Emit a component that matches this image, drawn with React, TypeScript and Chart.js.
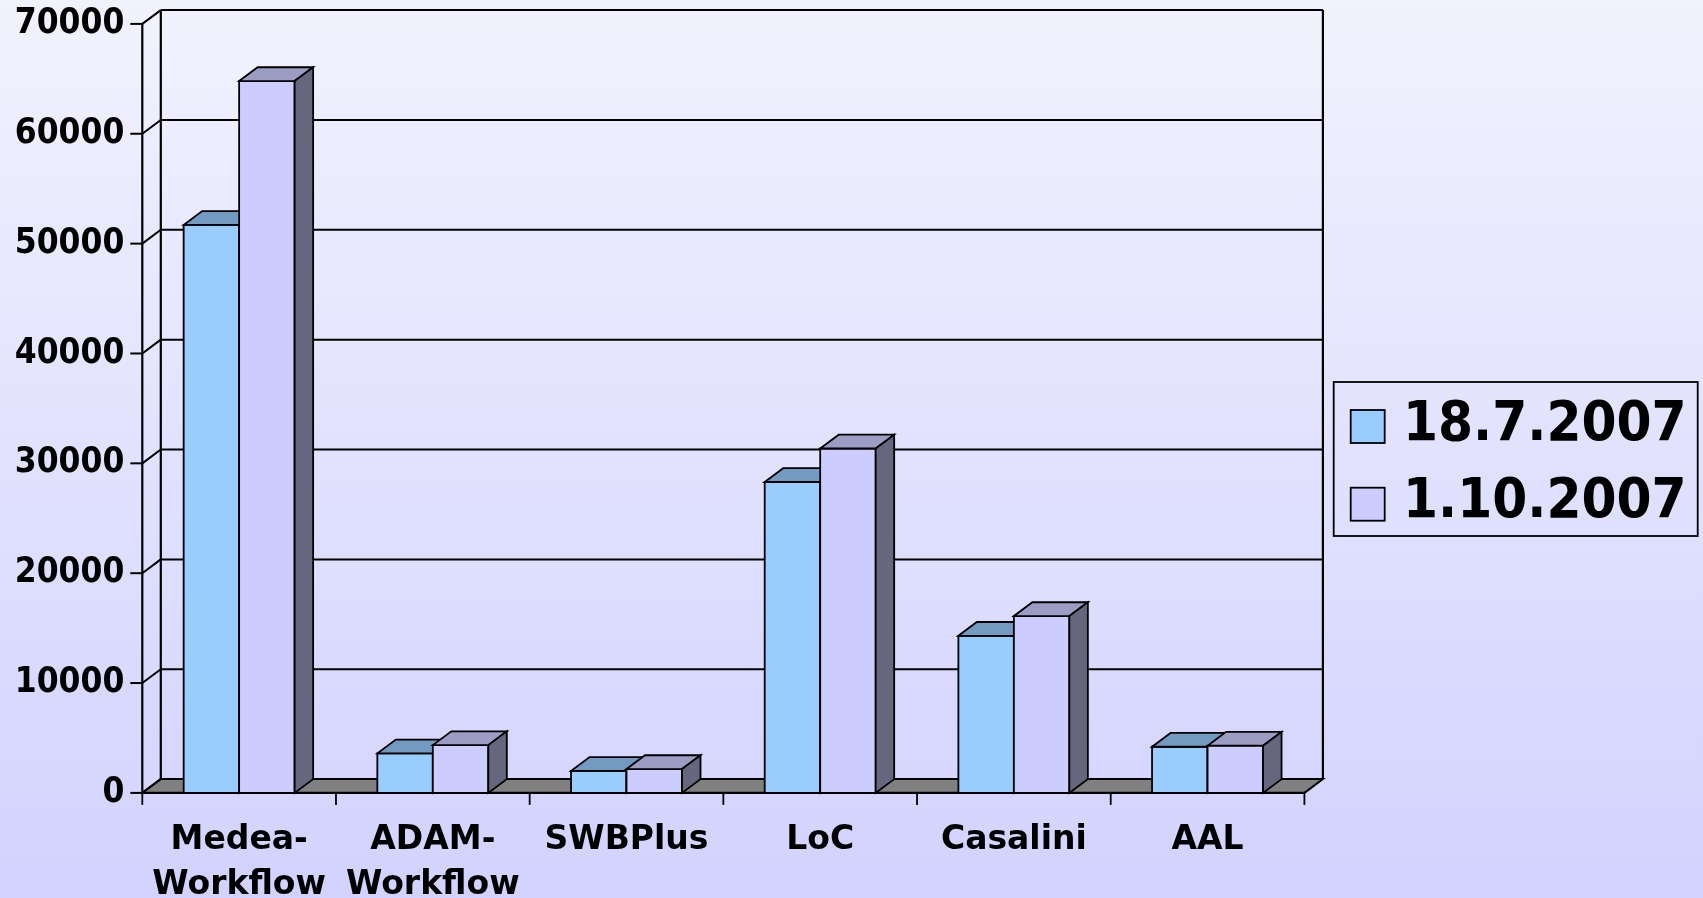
import React, { useEffect, useRef } from "react";
import { Chart, registerables } from "chart.js";

Chart.register(...registerables);

const categories: (string | string[])[] = [
  ["Medea-", "Workflow"],
  ["ADAM-", "Workflow"],
  "SWBPlus",
  "LoC",
  "Casalini",
  "AAL",
];
const seriesLabels = ["18.7.2007", "1.10.2007"];
const series1 = [51700, 3600, 2000, 28300, 14300, 4200];
const series2 = [64800, 4350, 2170, 31350, 16100, 4300];
const yMin = 0;
const yMax = 70000;
const yStep = 10000;

const frontColors = ["#99CCFF", "#CCCCFF"];
const topColors = ["#739AC0", "#9C9CC5"];
const sideColors = ["#4D6680", "#66667F"];

const FONT_C = "'DejaVu Sans Condensed', 'DejaVu Sans', sans-serif";
const FONT_N = "'DejaVu Sans', sans-serif";
const DX = 18.5;
const DY = 13.8;
const W = 1703;
const H = 898;

const threeD = {
  id: "threeD",
  beforeDraw(chart: any) {
    const ctx = chart.ctx;
    const g = ctx.createLinearGradient(0, 0, 0, H);
    g.addColorStop(0, "#F2F2FE");
    g.addColorStop(1, "#D2D2FF");
    ctx.save();
    ctx.fillStyle = g;
    ctx.fillRect(0, 0, W, H);
    ctx.restore();
  },
  beforeDatasetsDraw(chart: any) {
    const ctx = chart.ctx;
    const xs = chart.scales.x;
    const ys = chart.scales.y;
    const { left: L, right: R, top: T, bottom: B } = chart.chartArea;
    ctx.save();
    ctx.strokeStyle = "#000";
    ctx.lineCap = "butt";
    ctx.lineWidth = 2;
    ys.ticks.forEach((t: any) => {
      const y = ys.getPixelForValue(t.value);
      ctx.beginPath();
      ctx.moveTo(L + DX, y - DY);
      ctx.lineTo(R + DX, y - DY);
      ctx.moveTo(L, y);
      ctx.lineTo(L + DX, y - DY);
      ctx.stroke();
      ctx.beginPath();
      ctx.moveTo(L - 12, y);
      ctx.lineTo(L, y);
      ctx.stroke();
    });
    ctx.lineWidth = 2.2;
    ctx.beginPath();
    ctx.moveTo(L + DX, T - DY);
    ctx.lineTo(L + DX, B - DY);
    ctx.moveTo(R + DX, T - DY);
    ctx.lineTo(R + DX, B - DY);
    ctx.moveTo(L, T);
    ctx.lineTo(L, B + 1);
    ctx.stroke();
    // floor
    ctx.beginPath();
    ctx.moveTo(L, B);
    ctx.lineTo(R, B);
    ctx.lineTo(R + DX, B - DY);
    ctx.lineTo(L + DX, B - DY);
    ctx.closePath();
    ctx.fillStyle = "#808080";
    ctx.fill();
    ctx.lineWidth = 2;
    ctx.stroke();
    ctx.lineWidth = 2.4;
    ctx.beginPath();
    ctx.moveTo(L, B);
    ctx.lineTo(R, B);
    ctx.stroke();
    ctx.lineWidth = 1.8;
    for (let i = 0; i <= categories.length; i++) {
      const x = xs.getPixelForValue(i - 0.5);
      ctx.beginPath();
      ctx.moveTo(x, B);
      ctx.lineTo(x, B + 12);
      ctx.stroke();
    }
    // bars
    ctx.lineJoin = "miter";
    chart.data.datasets.forEach((_: any, di: number) => {
      const meta = chart.getDatasetMeta(di);
      meta.data.forEach((el: any) => {
        const { x, y, base, width } = el.getProps(["x", "y", "base", "width"], true);
        const l = x - width / 2;
        const r = x + width / 2;
        ctx.lineWidth = 1.8;
        ctx.beginPath();
        ctx.rect(l, y, r - l, base - y);
        ctx.fillStyle = frontColors[di];
        ctx.fill();
        ctx.stroke();
        ctx.beginPath();
        ctx.moveTo(l, y);
        ctx.lineTo(l + DX, y - DY);
        ctx.lineTo(r + DX, y - DY);
        ctx.lineTo(r, y);
        ctx.closePath();
        ctx.fillStyle = topColors[di];
        ctx.fill();
        ctx.stroke();
        ctx.beginPath();
        ctx.moveTo(r, y);
        ctx.lineTo(r + DX, y - DY);
        ctx.lineTo(r + DX, base - DY);
        ctx.lineTo(r, base);
        ctx.closePath();
        ctx.fillStyle = sideColors[di];
        ctx.fill();
        ctx.stroke();
      });
    });
    ctx.restore();
    return false;
  },
  afterDraw(chart: any) {
    const ctx = chart.ctx;
    ctx.save();
    const bx = 1333.7;
    const by = 382;
    const bw = 364;
    const bh = 154;
    ctx.strokeStyle = "#000";
    ctx.lineWidth = 1.8;
    ctx.strokeRect(bx, by, bw, bh);
    ctx.font = `bold 56px ${FONT_C}`;
    ctx.textBaseline = "middle";
    ctx.textAlign = "left";
    chart.data.datasets.forEach((ds: any, i: number) => {
      const sy = 410 + i * 77.7;
      ctx.fillStyle = frontColors[i];
      ctx.fillRect(1350.7, sy, 34, 33);
      ctx.strokeRect(1350.7, sy, 34, 33);
      ctx.fillStyle = "#000";
      ctx.fillText(ds.label, 1403, sy + 15);
    });
    ctx.restore();
  },
};

export default function App() {
  const ref = useRef<HTMLCanvasElement | null>(null);
  useEffect(() => {
    if (!ref.current) return;
    const chart = new Chart(ref.current, {
      type: "bar",
      data: {
        labels: categories as any,
        datasets: [
          { label: seriesLabels[0], data: series1, backgroundColor: frontColors[0] },
          { label: seriesLabels[1], data: series2, backgroundColor: frontColors[1] },
        ],
      },
      options: {
        responsive: false,
        animation: false,
        devicePixelRatio: 1,
        layout: { padding: { left: 0, top: 23.9, right: W - 1304.4, bottom: 0 } },
        plugins: { legend: { display: false }, tooltip: { enabled: false }, title: { display: false } },
        datasets: { bar: { categoryPercentage: 0.573, barPercentage: 1 } },
        scales: {
          x: {
            offset: true,
            grid: { display: false, drawTicks: false },
            border: { display: false },
            ticks: {
              autoSkip: false,
              maxRotation: 0,
              minRotation: 0,
              padding: 25,
              color: "#000",
              font: { family: FONT_N, weight: "bold", size: 33, lineHeight: 1.36 },
            },
            afterFit: (s: any) => {
              s.height = H - 792.9;
              s.paddingLeft = 0;
              s.paddingRight = 0;
            },
          },
          y: {
            min: yMin,
            max: yMax,
            grid: { display: false, drawTicks: false },
            border: { display: false },
            ticks: {
              stepSize: yStep,
              padding: 18,
              color: "#000",
              font: { family: FONT_C, weight: "bold", size: 35 },
              callback: (v: any) => String(v),
            },
            afterFit: (s: any) => {
              s.width = 142.3;
              s.paddingTop = 0;
              s.paddingBottom = 0;
            },
          },
        },
      } as any,
      plugins: [threeD],
    });
    return () => chart.destroy();
  }, []);
  return (
    <div style={{ position: "fixed", left: 0, top: 0, width: W, height: H, overflow: "hidden" }}>
      <canvas ref={ref} width={W} height={H} style={{ display: "block" }} />
    </div>
  );
}
